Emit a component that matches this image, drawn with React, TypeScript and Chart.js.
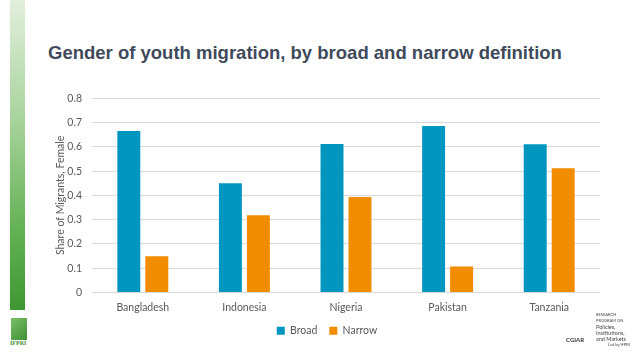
import React, { useEffect, useRef } from "react";
import { Chart, registerables } from "chart.js";

Chart.register(...registerables);

const categories = ["Bangladesh", "Indonesia", "Nigeria", "Pakistan", "Tanzania"];
const broadValues = [0.665, 0.45, 0.612, 0.686, 0.611];
const narrowValues = [0.149, 0.318, 0.393, 0.107, 0.512];
const seriesNames = ["Broad", "Narrow"];
const titleText = "Gender of youth migration, by broad and narrow definition";
const yAxisTitle = "Share of Migrants, Female";

const FONT = "Lato, 'Open Sans', sans-serif";

export default function App() {
  const ref = useRef<HTMLCanvasElement | null>(null);

  useEffect(() => {
    if (!ref.current) return;
    const chart = new Chart(ref.current, {
      type: "bar",
      data: {
        labels: categories,
        datasets: [
          {
            label: seriesNames[0],
            data: broadValues,
            backgroundColor: "#0096c0",
            categoryPercentage: 0.551,
            barPercentage: 0.82,
          },
          {
            label: seriesNames[1],
            data: narrowValues,
            backgroundColor: "#f28c00",
            categoryPercentage: 0.551,
            barPercentage: 0.82,
          },
        ],
      },
      options: {
        animation: false,
        responsive: false,
        maintainAspectRatio: false,
        layout: { padding: { left: 14, right: 20, top: 14, bottom: 4 } },
        plugins: {
          legend: {
            position: "bottom",
            labels: {
              boxWidth: 8,
              boxHeight: 8,
              padding: 12,
              color: "#595959",
              font: { family: FONT, size: 10.5 },
            },
          },
          tooltip: { enabled: false },
        },
        scales: {
          x: {
            grid: { display: false, drawTicks: false },
            border: { display: false },
            ticks: { color: "#595959", font: { family: FONT, size: 10.5 }, padding: 9 },
            afterFit: (scale: any) => {
              scale.height = 21;
            },
          },
          y: {
            min: 0,
            max: 0.8,
            grid: { color: "#d9d9d9", drawTicks: false },
            border: { display: false },
            afterFit: (scale: any) => {
              scale.width = 38;
            },
            ticks: {
              stepSize: 0.1,
              color: "#595959",
              padding: 10,
              font: { family: FONT, size: 10.5 },
              callback: (v: any) => String(Math.round(Number(v) * 10) / 10),
            },
            title: {
              display: true,
              text: yAxisTitle,
              color: "#595959",
              font: { family: FONT, size: 10.5 },
              padding: { top: 0, bottom: 0 },
            },
          },
        },
      },
    });
    return () => chart.destroy();
  }, []);

  return (
    <div
      style={{
        position: "fixed",
        left: 0,
        top: 0,
        width: 638,
        height: 359,
        background: "#ffffff",
        overflow: "hidden",
      }}
    >
      <div
        style={{
          position: "absolute",
          left: 10,
          top: 0,
          width: 15,
          height: 310,
          background: "linear-gradient(to bottom, #e2efdd 0%, #a6d29a 40%, #62b053 75%, #3e9732 100%)",
        }}
      />
      <div
        style={{
          position: "absolute",
          left: 11,
          top: 318,
          width: 16,
          height: 22,
          background: "linear-gradient(135deg, #7bbf6a, #3e8f35)",
        }}
      />
      <div
        style={{
          position: "absolute",
          left: 10,
          top: 340,
          fontFamily: "'Liberation Serif', serif",
          fontSize: 6,
          color: "#3e8f35",
          fontWeight: 700,
        }}
      >
        IFPRI
      </div>
      <div
        style={{
          position: "absolute",
          left: 48,
          top: 42,
          fontFamily: "'Liberation Sans', Arial, sans-serif",
          fontWeight: 700,
          fontSize: 18.5,
          color: "#404a5a",
          whiteSpace: "nowrap",
        }}
      >
        {titleText}
      </div>
      <canvas
        ref={ref}
        width={580}
        height={268}
        style={{ position: "absolute", left: 40, top: 82, width: 580, height: 268 }}
      />
      <div
        style={{
          position: "absolute",
          left: 566,
          top: 336,
          fontFamily: FONT,
          fontSize: 6,
          color: "#333",
          fontWeight: 700,
        }}
      >
        CGIAR
      </div>
      <div
        style={{
          position: "absolute",
          left: 596,
          top: 312,
          fontFamily: FONT,
          fontSize: 5.5,
          lineHeight: "6px",
          color: "#444",
          whiteSpace: "nowrap",
        }}
      >
        <div style={{ fontSize: 4 }}>RESEARCH</div>
        <div style={{ fontSize: 4 }}>PROGRAM ON</div>
        <div>Policies,</div>
        <div>Institutions,</div>
        <div>and Markets</div>
        <div style={{ fontSize: 4, paddingLeft: 12 }}>Led by IFPRI</div>
      </div>
    </div>
  );
}
